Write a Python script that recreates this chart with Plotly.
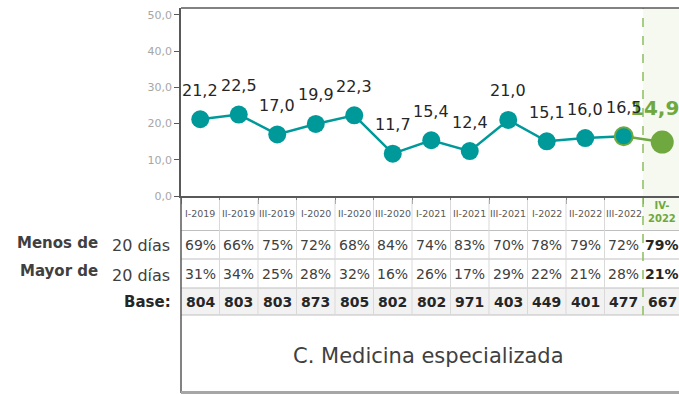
import plotly.graph_objects as go

# Periods and series
periodos = ["I-2019", "II-2019", "III-2019", "I-2020", "II-2020", "III-2020", "I-2021",
            "II-2021", "III-2021", "I-2022", "II-2022", "III-2022", "IV-2022"]
dias_espera = [21.2, 22.5, 17.0, 19.9, 22.3, 11.7, 15.4, 12.4, 21.0, 15.1, 16.0, 16.5, 14.9]
menos_20 = [69, 66, 75, 72, 68, 84, 74, 83, 70, 78, 79, 72, 79]
mayor_20 = [31, 34, 25, 28, 32, 16, 26, 17, 29, 22, 21, 28, 21]
base = [804, 803, 803, 873, 805, 802, 802, 971, 403, 449, 401, 477, 667]
y_ticks = [0, 10, 20, 30, 40, 50]

TEAL = "#009999"
GREEN = "#6FA83E"
TXT = "#404040"
FONT = "DejaVu Sans"

W, H = 679, 395
TOP, BOTTOM = 8, 199          # plot area margins (px)
PLOT_H = H - TOP - BOTTOM     # 188
X_AXIS_PX = TOP + PLOT_H      # 196
LEFT = 181


def py(px):
    """Pixel row (from top) -> paper y coordinate."""
    return (X_AXIS_PX - px) / PLOT_H


def pxx(px):
    """Pixel column (from left) -> paper x coordinate."""
    return (px - LEFT) / (W - LEFT)


def fmt(v):
    return f"{v:.1f}".replace(".", ",")


n = len(periodos)
xs = list(range(n))
last = n - 1

fig = go.Figure()

# Green segment into the latest period
fig.add_trace(go.Scatter(
    x=xs[last - 1:], y=dias_espera[last - 1:], mode="lines",
    line=dict(color=GREEN, width=2.5), hoverinfo="skip", showlegend=False))
# Historic series
fig.add_trace(go.Scatter(
    x=xs[:last], y=dias_espera[:last], mode="lines+markers",
    line=dict(color=TEAL, width=2.5),
    marker=dict(size=18, color=TEAL,
                line=dict(color=[TEAL] * (last - 1) + [GREEN], width=[0] * (last - 1) + [2])),
    showlegend=False))
# Latest period
fig.add_trace(go.Scatter(
    x=[xs[last]], y=[dias_espera[last]], mode="markers",
    marker=dict(size=23, color=GREEN), showlegend=False))

ann = []
# Latest value label (drawn first so neighbours sit on top)
ann.append(dict(x=xs[last], y=dias_espera[last], xref="x", yref="y",
                text=f"<b>{fmt(dias_espera[last])}</b>",
                showarrow=False, yshift=34, xshift=-8, xanchor="center", yanchor="middle",
                font=dict(family=FONT, size=20, color=GREEN)))
for i in range(last):
    ann.append(dict(x=xs[i], y=dias_espera[i], xref="x", yref="y", text=fmt(dias_espera[i]),
                    showarrow=False, yshift=29, xanchor="center", yanchor="middle",
                    font=dict(family=FONT, size=16, color="#262626")))

# Table rows (px boundaries)
rows = [X_AXIS_PX, 230.5, 259, 288, 315]
row_cy = [213, 245, 274, 302]

shapes = []
# Highlight band for the latest period
shapes.append(dict(type="rect", xref="x", yref="paper", x0=last - 0.5, x1=last + 0.7,
                   y0=py(230.5), y1=1, fillcolor="#F5F9F0", line=dict(width=0), layer="below"))
# Base row fill
shapes.append(dict(type="rect", xref="x", yref="paper", x0=-0.5, x1=last + 0.7,
                   y0=py(315), y1=py(288), fillcolor="#F2F2F2", line=dict(width=0), layer="below"))
# Horizontal rules
for r in rows[1:]:
    shapes.append(dict(type="line", xref="x", yref="paper", x0=-0.5, x1=last + 0.7,
                       y0=py(r), y1=py(r), line=dict(color="#BFBFBF", width=1)))
# Column rules
for k in range(last - 1):
    shapes.append(dict(type="line", xref="x", yref="paper", x0=k + 0.5, x1=k + 0.5,
                       y0=py(315), y1=py(200), line=dict(color="#D9D9D9", width=1)))
# Dashed separator before latest period
shapes.append(dict(type="line", xref="x", yref="paper", x0=last - 0.5, x1=last - 0.5,
                   y0=py(315), y1=1, line=dict(color="#8CBF5F", width=1.5, dash="dash")))
# Left frame below the axis
shapes.append(dict(type="line", xref="paper", yref="paper", x0=0, x1=0,
                   y0=py(393), y1=py(196), line=dict(color="#595959", width=1.5)))
# Top frame
shapes.append(dict(type="line", xref="paper", yref="paper", x0=0, x1=1,
                   y0=1, y1=1, line=dict(color="#595959", width=1.5)))
# Bottom rule of the caption box
shapes.append(dict(type="line", xref="paper", yref="paper", x0=0, x1=1,
                   y0=py(392.5), y1=py(392.5), line=dict(color="#A6A6A6", width=3)))

# Category labels
for i, p in enumerate(periodos):
    if i == last:
        a, b = p.split("-")
        ann.append(dict(x=i, y=py(212), xref="x", yref="paper", text=f"<b>{a}-<br>{b}</b>",
                        showarrow=False, xanchor="center", yanchor="middle",
                        font=dict(family=FONT, size=10, color=GREEN)))
    else:
        ann.append(dict(x=i, y=py(213), xref="x", yref="paper", text=p,
                        showarrow=False, xanchor="center", yanchor="middle",
                        font=dict(family=FONT, size=9.5, color="#595959")))

# Percentage and base rows
for i in range(n):
    bold = i == last
    for vals, cy in ((menos_20, row_cy[1]), (mayor_20, row_cy[2])):
        t = f"{vals[i]}%"
        ann.append(dict(x=i, y=py(cy), xref="x", yref="paper",
                        text=f"<b>{t}</b>" if bold else t, showarrow=False,
                        xanchor="center", yanchor="middle",
                        font=dict(family=FONT, size=14, color="#262626" if bold else TXT)))
    ann.append(dict(x=i, y=py(row_cy[3]), xref="x", yref="paper", text=f"<b>{base[i]}</b>",
                    showarrow=False, xanchor="center", yanchor="middle",
                    font=dict(family=FONT, size=14, color="#262626")))

# Row headers
ann += [
    dict(x=pxx(100), y=py(243), xref="paper", yref="paper", xanchor="right", yanchor="middle",
         showarrow=False, text="<b>Menos de</b>", font=dict(family=FONT, size=15, color=TXT)),
    dict(x=pxx(110), y=py(245), xref="paper", yref="paper", xanchor="left", yanchor="middle",
         showarrow=False, text="20 días", font=dict(family=FONT, size=16, color=TXT)),
    dict(x=pxx(100), y=py(271), xref="paper", yref="paper", xanchor="right", yanchor="middle",
         showarrow=False, text="<b>Mayor de</b>", font=dict(family=FONT, size=15, color=TXT)),
    dict(x=pxx(110), y=py(275), xref="paper", yref="paper", xanchor="left", yanchor="middle",
         showarrow=False, text="20 días", font=dict(family=FONT, size=16, color=TXT)),
    dict(x=pxx(173), y=py(302), xref="paper", yref="paper", xanchor="right", yanchor="middle",
         showarrow=False, text="<b>Base:</b>", font=dict(family=FONT, size=15, color="#262626")),
]

# Caption
ann.append(dict(x=pxx(428), y=py(356), xref="paper", yref="paper", showarrow=False,
                xanchor="center", yanchor="middle",
                text="C. Medicina especializada", font=dict(family=FONT, size=21, color=TXT)))

fig.update_layout(
    width=W, height=H,
    margin=dict(l=LEFT, r=0, t=TOP, b=BOTTOM, pad=0),
    paper_bgcolor="white", plot_bgcolor="white",
    font=dict(family=FONT),
    xaxis=dict(range=[-0.5, 12.435], tickvals=[k + 0.5 for k in range(-1, last)],
               showticklabels=False, ticks="outside", ticklen=6, tickcolor="#808080",
               showgrid=False, zeroline=False, showline=True, linecolor="#595959", linewidth=1.5),
    yaxis=dict(range=[0, 51.93], tickvals=y_ticks, ticktext=[fmt(v) for v in y_ticks],
               ticks="outside", ticklen=5, tickcolor="#595959",
               tickfont=dict(family=FONT, size=11, color="#A6A6A6"),
               showgrid=False, zeroline=False, showline=True, linecolor="#595959", linewidth=1.5),
    shapes=shapes, annotations=ann,
)

fig.write_html("out.html")
